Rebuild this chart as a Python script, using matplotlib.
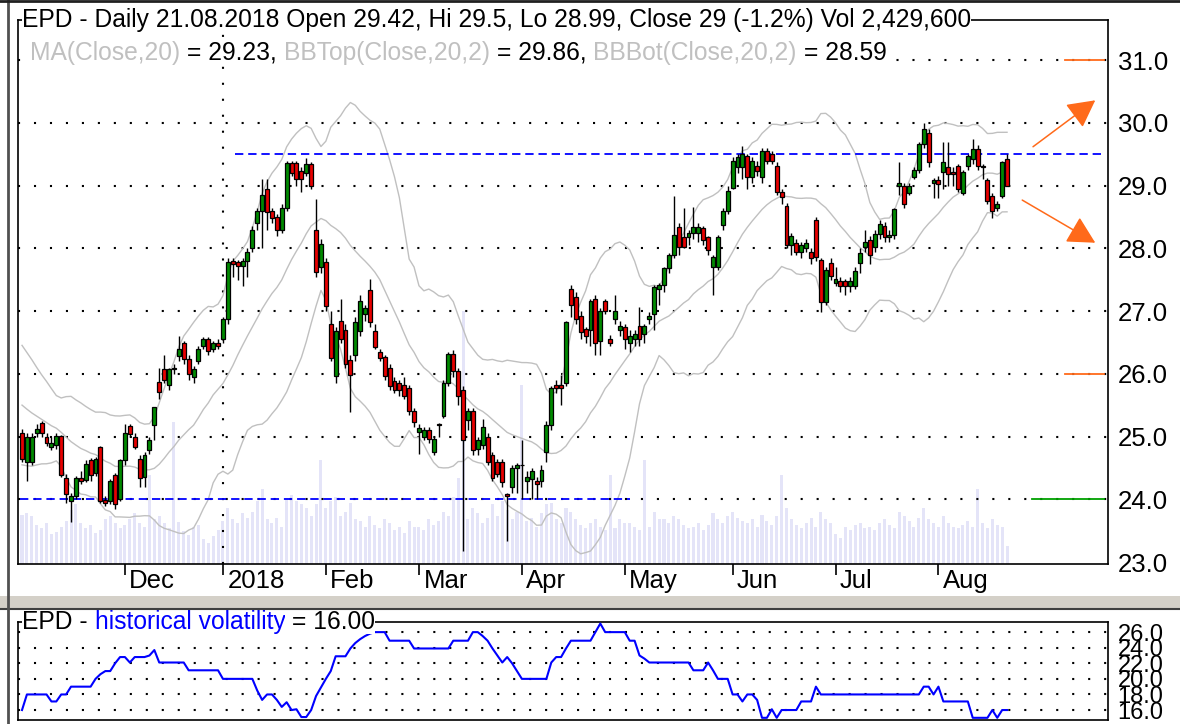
import numpy as np
import pandas as pd
import matplotlib
matplotlib.use('Agg')
import matplotlib.pyplot as plt
import matplotlib.transforms as mtransforms
from matplotlib.patches import Rectangle
from matplotlib.lines import Line2D

plt.rcParams['font.family'] = ['Liberation Sans', 'DejaVu Sans']
plt.rcParams['lines.scale_dashes'] = False

# ---- data: daily EPD candles, 01.11.2017 - 21.08.2018 ----
holidays = ['2017-11-23', '2017-12-25', '2018-01-01', '2018-01-15',
            '2018-02-19', '2018-03-30', '2018-05-28', '2018-07-04']

opens = [
    # Nov
    25.05, 24.60, 24.60, 25.05, 25.22, 25.00, 24.83, 24.86, 25.01, 24.34, 23.97,
    24.05, 24.34, 24.31, 24.62, 24.42, 24.83, 23.99, 23.97, 24.39, 24.00,
    # Dec
    24.62, 25.17, 25.00, 24.65, 24.36, 24.78, 25.19, 25.87, 26.08, 25.82,
    26.08, 26.29, 26.49, 26.23, 25.95, 26.21, 26.44, 26.55, 26.40, 26.50,
    # Jan
    26.56, 26.87, 27.80, 27.78, 27.72, 27.80, 28.00, 28.40, 28.60, 28.95, 28.60,
    28.50, 28.30, 28.64, 29.36, 29.36, 29.23, 29.20, 29.34, 28.30, 27.70,
    # Feb
    27.78, 26.80, 25.96, 26.84, 26.70, 26.22, 26.30, 26.69, 26.95, 27.34,
    26.69, 26.35, 26.27, 26.09, 25.88, 25.85, 25.83, 25.78, 25.41,
    # Mar
    25.07, 25.00, 25.10, 24.76, 25.20, 25.33, 25.85, 26.32, 26.04, 25.75, 25.26,
    25.41, 24.80, 24.86, 24.99, 24.70, 24.60, 24.60, 24.08, 24.19, 24.50,
    # Apr
    24.55, 24.30, 24.32, 24.29, 24.29, 24.76, 25.18, 25.83, 25.83, 25.85, 27.35,
    27.23, 26.92, 26.71, 26.70, 27.20, 26.53, 27.16, 26.55, 26.87, 26.70,
    # May
    26.74, 26.50, 26.55, 26.76, 26.63, 26.87, 26.95, 27.35, 27.42, 27.68, 27.90,
    28.34, 28.18, 28.18, 28.24, 28.24, 28.32, 28.18, 27.71, 27.71, 28.37, 28.60,
    # Jun
    28.97, 29.30, 29.30, 29.47, 29.13, 29.32, 29.13, 29.55, 29.50, 29.32, 28.90,
    28.68, 28.05, 28.08, 27.95, 28.00, 27.95, 28.45, 27.82, 27.14, 27.77,
    # Jul
    27.45, 27.48, 27.48, 27.40, 27.40, 27.77, 28.03, 28.13, 28.03, 28.23, 28.36,
    28.18, 28.21, 28.99, 28.99, 28.88, 29.14, 29.25, 29.66, 29.84, 29.04,
    # Aug
    29.09, 29.22, 29.30, 29.22, 29.32, 28.88, 29.32, 29.43, 29.58, 29.32,
    29.09, 28.83, 28.65, 28.83, 29.42,
]
highs = [
    25.12, 25.05, 25.05, 25.20, 25.25, 25.05, 25.00, 25.05, 25.03, 24.40, 24.10,
    24.38, 24.45, 24.62, 24.66, 24.68, 24.85, 24.05, 24.32, 24.42, 24.65,
    25.20, 25.20, 25.05, 24.70, 24.75, 25.00, 25.48, 26.10, 26.30, 26.10,
    26.15, 26.60, 26.52, 26.30, 26.12, 26.45, 26.58, 26.58, 26.52, 26.55,
    26.90, 27.85, 27.85, 27.82, 27.85, 28.00, 28.35, 28.65, 29.10, 29.10, 28.65,
    28.55, 28.70, 29.40, 29.40, 29.40, 29.30, 29.44, 29.38, 28.79, 28.15,
    27.85, 27.00, 26.75, 27.20, 26.80, 26.30, 26.90, 27.25, 27.10, 27.52,
    26.80, 26.40, 26.30, 26.15, 25.95, 25.90, 25.95, 25.82, 25.45,
    25.20, 25.15, 25.15, 25.00, 25.22, 25.90, 26.35, 26.38, 26.10, 25.80, 25.45,
    25.45, 25.00, 25.28, 25.05, 24.75, 24.65, 24.65, 24.10, 24.55, 24.58,
    24.95, 24.45, 24.50, 24.35, 24.55, 25.25, 25.80, 25.90, 25.99, 26.85, 27.42,
    27.30, 27.00, 26.75, 27.20, 27.25, 27.05, 27.20, 26.62, 27.26, 26.85,
    26.80, 26.70, 26.70, 27.07, 26.80, 26.98, 27.42, 27.45, 27.70, 27.92, 28.84,
    28.40, 28.65, 28.30, 28.66, 28.40, 28.36, 28.20, 27.90, 28.22, 28.65, 29.00,
    29.45, 29.50, 29.63, 29.50, 29.45, 29.40, 29.60, 29.60, 29.55, 29.38, 28.95,
    28.72, 28.25, 28.15, 28.10, 28.15, 28.00, 28.50, 27.85, 27.70, 27.85,
    27.70, 27.55, 27.52, 27.55, 27.70, 28.00, 28.30, 28.20, 28.30, 28.45, 28.42,
    28.30, 28.65, 29.38, 29.05, 29.05, 29.30, 29.70, 30.00, 29.90, 29.12,
    29.15, 29.70, 29.70, 29.30, 29.35, 29.25, 29.50, 29.74, 29.65, 29.35,
    29.12, 28.88, 28.75, 29.40, 29.50,
]
lows = [
    24.60, 24.30, 24.55, 25.00, 25.00, 24.85, 24.78, 24.80, 24.35, 23.95, 23.64,
    24.00, 24.25, 24.28, 24.30, 24.38, 23.95, 23.90, 23.92, 23.85, 23.98,
    24.55, 25.00, 24.80, 24.20, 24.20, 24.72, 24.95, 25.60, 25.85, 25.75,
    26.00, 26.20, 26.15, 25.90, 25.85, 26.15, 26.40, 26.30, 26.35, 26.40,
    26.50, 26.80, 27.55, 27.50, 27.40, 27.55, 27.95, 28.30, 28.00, 28.30, 28.40,
    28.20, 28.25, 28.60, 29.15, 29.00, 28.90, 29.15, 28.95, 27.55, 27.60,
    27.00, 26.20, 25.85, 26.50, 26.10, 25.39, 26.20, 26.60, 26.85, 26.75,
    26.40, 26.20, 25.90, 25.75, 25.70, 25.65, 25.60, 25.35, 25.15,
    24.72, 24.95, 24.90, 24.70, 25.00, 25.30, 25.80, 25.95, 25.50, 23.17, 25.10,
    24.70, 24.70, 24.80, 24.55, 24.30, 24.35, 24.20, 23.33, 24.10, 24.10,
    24.00, 24.10, 24.00, 24.00, 24.20, 24.60, 25.10, 25.70, 25.50, 25.80, 26.90,
    26.80, 26.55, 26.50, 26.45, 26.30, 26.30, 26.95, 26.45, 26.80, 26.60,
    26.40, 26.35, 26.45, 26.45, 26.50, 26.80, 26.70, 27.10, 27.30, 27.60, 27.85,
    27.90, 28.00, 28.05, 28.15, 28.10, 28.05, 27.90, 27.26, 27.65, 28.30, 28.55,
    28.95, 29.20, 29.10, 28.95, 29.05, 29.15, 29.05, 29.35, 29.35, 28.85, 28.70,
    28.00, 27.90, 27.90, 27.85, 27.95, 27.75, 27.80, 26.99, 27.10, 27.50,
    27.40, 27.30, 27.25, 27.30, 27.35, 27.60, 27.95, 27.75, 27.95, 28.15, 28.10,
    28.10, 28.15, 28.85, 28.65, 28.85, 29.10, 29.20, 29.60, 29.30, 28.80,
    28.80, 28.95, 29.00, 29.00, 28.90, 28.85, 29.25, 29.35, 29.25, 29.10,
    28.70, 28.49, 28.60, 28.80, 28.99,
]
closes = [
    24.65, 25.00, 25.00, 25.12, 25.05, 24.90, 24.90, 25.01, 24.39, 24.08, 24.05,
    24.34, 24.29, 24.57, 24.39, 24.65, 23.97, 23.95, 24.29, 23.92, 24.62,
    25.06, 25.04, 24.83, 24.34, 24.70, 24.94, 25.48, 25.71, 25.90, 26.08,
    26.10, 26.39, 26.23, 26.00, 26.08, 26.39, 26.55, 26.36, 26.50, 26.45,
    26.87, 27.78, 27.75, 27.72, 27.80, 27.95, 28.30, 28.60, 28.85, 28.58, 28.48,
    28.30, 28.64, 29.36, 29.20, 29.10, 29.10, 29.34, 29.00, 27.62, 28.07,
    27.08, 26.25, 26.69, 26.56, 26.15, 25.99, 26.82, 27.16, 27.05, 26.82,
    26.43, 26.25, 25.96, 25.80, 25.75, 25.75, 25.65, 25.41, 25.23,
    25.13, 25.10, 24.97, 24.97, 25.18, 25.85, 26.32, 26.04, 25.65, 24.94, 25.41,
    24.79, 24.95, 25.15, 24.60, 24.34, 24.40, 24.27, 24.05, 24.50, 24.55,
    24.55, 24.35, 24.45, 24.24, 24.47, 25.18, 25.78, 25.78, 25.78, 26.82, 27.10,
    26.87, 26.66, 26.60, 27.16, 26.50, 27.00, 27.00, 26.50, 27.00, 26.76,
    26.55, 26.60, 26.63, 26.55, 26.76, 26.92, 27.39, 27.42, 27.68, 27.90, 28.21,
    28.03, 28.03, 28.24, 28.34, 28.34, 28.13, 27.97, 27.87, 28.18, 28.60, 28.92,
    29.39, 29.45, 29.50, 29.13, 29.39, 29.24, 29.55, 29.39, 29.39, 28.90, 28.82,
    28.05, 28.20, 27.95, 28.05, 28.08, 27.84, 27.87, 27.14, 27.66, 27.56,
    27.52, 27.40, 27.40, 27.48, 27.64, 27.92, 28.10, 27.90, 28.23, 28.39, 28.18,
    28.22, 28.62, 29.04, 28.70, 28.99, 29.25, 29.66, 29.90, 29.38, 29.09,
    29.02, 29.38, 29.19, 29.19, 28.94, 29.22, 29.48, 29.58, 29.32, 29.30,
    28.75, 28.60, 28.70, 29.38, 29.00,
]
# closes of the 19 sessions before the chart (only used to seed the bands)
seed_closes = [26.30, 26.20, 26.15, 26.05, 25.95, 25.90, 25.80, 25.70, 25.60,
               25.50, 25.45, 25.35, 25.25, 25.20, 25.10, 25.05, 25.00, 24.95, 24.90]

volume_m = [
    6.6, 6.9, 6.5, 5.2, 4.8, 5.5, 4.0, 4.3, 5.0, 5.8, 7.2,
    8.0, 5.5, 4.8, 5.3, 4.2, 4.6, 6.0, 6.5, 5.5, 4.8,
    5.2, 6.0, 6.8, 5.5, 5.0, 12.0, 6.0, 6.4, 5.5, 4.8,
    19.0, 5.6, 4.4, 3.9, 5.0, 5.3, 3.4, 2.8, 3.8, 4.6,
    5.8, 7.5, 6.0, 5.5, 6.8, 6.2, 7.0, 8.5, 10.0, 6.0, 5.5,
    6.2, 5.0, 8.8, 9.2, 8.4, 8.0, 7.5, 6.5, 8.0, 14.0,
    7.5, 8.5, 9.0, 6.5, 7.0, 8.2, 6.0, 5.8, 5.0, 6.5,
    5.2, 4.8, 6.0, 5.5, 4.5, 5.0, 4.2, 5.8, 5.0,
    5.0, 4.5, 6.0, 5.2, 5.8, 7.0, 6.5, 9.0, 11.5, 34.0, 6.0,
    7.5, 6.8, 5.5, 6.2, 8.0, 6.5, 8.4, 7.2, 6.0, 7.0,
    24.0, 5.8, 6.2, 5.0, 6.8, 8.0, 8.2, 6.0, 5.5, 7.5, 7.0,
    6.0, 5.2, 4.8, 5.5, 6.0, 5.0, 4.5, 12.0, 4.8, 6.0,
    5.5, 5.5, 5.0, 4.5, 14.0, 5.0, 7.0, 6.0, 6.0, 5.5, 6.5,
    6.0, 5.2, 4.8, 5.0, 5.5, 4.6, 5.2, 6.8, 6.0, 5.5, 6.5,
    7.0, 6.2, 5.8, 5.5, 6.0, 5.0, 6.6, 5.8, 5.2, 6.5, 12.0,
    7.5, 6.0, 5.2, 4.8, 5.5, 6.2, 5.0, 7.0, 6.0, 5.5,
    4.0, 3.5, 5.0, 4.5, 5.2, 5.5, 4.8, 5.0, 4.5, 5.5, 6.0,
    5.2, 4.8, 7.0, 6.5, 5.8, 5.0, 6.2, 7.5, 6.0, 5.5,
    5.0, 6.5, 5.5, 5.0, 4.8, 5.2, 5.8, 5.0, 10.0, 5.5,
    4.8, 6.0, 5.2, 5.0, 2.43,
]

hist_vol = [
    16.0, 18.0, 18.0, 18.0, 18.0, 18.0, 17.1, 17.1, 18.0, 18.0,
    19.0, 19.0, 19.0, 19.0, 19.0, 20.0, 20.6, 21.0, 21.0, 22.0,
    22.8, 22.8, 22.1, 22.8, 22.8, 22.8, 23.0, 23.7, 22.1, 22.1,
    22.1, 22.1, 22.1, 22.1, 21.1, 21.1, 21.1, 21.1, 21.1, 21.1,
    21.1, 20.0, 20.0, 20.0, 20.0, 20.0, 20.0, 20.0, 18.5, 17.3,
    18.0, 18.0, 17.3, 16.4, 17.0, 16.0, 16.1, 15.1, 15.1, 16.0,
    17.8, 18.9, 20.0, 21.0, 22.9, 22.9, 22.9, 23.9, 24.6, 25.1,
    25.5, 25.8, 26.0, 26.0, 26.0, 24.9, 24.9, 24.9, 24.9, 24.9,
    23.9, 23.9, 23.9, 23.9, 23.9, 23.9, 23.9, 23.9, 24.9, 24.9,
    24.9, 24.9, 26.0, 26.0, 25.5, 24.9, 23.9, 23.0, 22.1, 22.8,
    22.0, 21.0, 20.0, 20.0, 20.0, 20.0, 20.0, 20.0, 22.1, 22.8,
    22.8, 23.9, 24.9, 24.9, 24.9, 24.9, 24.9, 26.0, 27.1, 26.0,
    26.0, 26.0, 26.0, 26.0, 24.9, 24.9, 23.0, 22.6, 22.1, 22.1,
    22.1, 22.1, 22.1, 22.1, 22.1, 22.1, 22.1, 21.1, 21.1, 21.1,
    22.1, 21.1, 20.0, 20.0, 20.0, 18.0, 18.0, 17.1, 18.0, 18.0,
    17.3, 15.0, 15.0, 16.1, 15.0, 16.0, 16.0, 16.0, 16.0, 17.1,
    17.1, 17.1, 19.0, 18.0, 18.0, 18.0, 18.0, 18.0, 18.0, 18.0,
    18.0, 18.0, 18.0, 18.0, 18.0, 18.0, 18.0, 18.0, 18.0, 18.0,
    18.0, 18.0, 18.0, 18.0, 19.0, 19.0, 18.0, 19.0, 17.1, 17.1,
    17.1, 17.1, 17.1, 17.1, 15.0, 15.0, 15.0, 15.0, 16.0, 15.0,
    16.0, 16.0,
]

month_names = ['Dec', '2018', 'Feb', 'Mar', 'Apr', 'May', 'Jun', 'Jul', 'Aug']
price_ticks = [23.0, 24.0, 25.0, 26.0, 27.0, 28.0, 29.0, 30.0, 31.0]
vol_ticks = [16.0, 18.0, 20.0, 22.0, 24.0, 26.0]

# drawn levels: (price, from day, to day)
blue_levels = [(29.5, 43.5, 221), (24.0, -0.5, 124)]
orange_marks = [31.0, 26.0]
green_marks = [24.0]
# trend arrows: (day0, price0, day1, price1)
arrows = [(206.3, 29.62, 219.0, 30.36), (204.1, 28.77, 219.0, 28.09)]

header = 'EPD - Daily 21.08.2018 Open 29.42, Hi 29.5, Lo 28.99, Close 29 (-1.2%) Vol 2,429,600'
header2 = [('MA(Close,20)', '#c0c0c0'), (' = 29.23, ', 'black'),
           ('BBTop(Close,20,2)', '#c0c0c0'), (' = 29.86, ', 'black'),
           ('BBBot(Close,20,2)', '#c0c0c0'), (' = 28.59', 'black')]
header3 = [('EPD - ', 'black'), ('historical volatility', '#0000ff'), (' = 16.00', 'black')]

# ---- derived ----
days = pd.bdate_range('2017-11-01', '2018-08-21')
days = days[~days.isin(pd.to_datetime(holidays))]
n = len(closes)
idx = np.arange(n)
o, h, l, c = map(np.array, (opens, highs, lows, closes))

allc = pd.Series(seed_closes + closes)
mid = allc.rolling(20).mean().values[-n:]
sd = allc.rolling(20).std(ddof=0).values[-n:]
upper, lower = mid + 2 * sd, mid - 2 * sd

month_pos = [i for i in range(1, n) if days[i].month != days[i - 1].month]

# ---- figure ----
W, H = 1180, 724
fig = plt.figure(figsize=(W / 100, H / 100), dpi=100)


def rect(left, top, right, bottom):
    return [left / W, 1 - bottom / H, (right - left) / W, (bottom - top) / H]


xlim = (-0.82, 221.6)
dots = (0, (1.5, 10))
title_size = 17.7
label_size = 18.5

# window decoration
fig.add_artist(Rectangle((0, 1 - 608 / H), 1, 12 / H, transform=fig.transFigure,
                         fc='#d4d0c8', ec='none'))
fig.add_artist(Line2D([0, 1], [1 - 609 / H] * 2, transform=fig.transFigure,
                      color='#404040', lw=1.5))
fig.add_artist(Line2D([8 / W] * 2, [0, 1], transform=fig.transFigure,
                      color='#505050', lw=2))
fig.add_artist(Line2D([0, 1], [1 - 1 / H] * 2, transform=fig.transFigure,
                      color='#202020', lw=2))

# volume behind the price panel
vax = fig.add_axes(rect(18, 20, 1108, 564))
vax.bar(idx, volume_m, width=0.62, color='#e4e4f8', linewidth=0)
vax.set_xlim(*xlim)
vax.set_ylim(0, 73)
vax.axis('off')

ax = fig.add_axes(rect(18, 20, 1108, 564))
ax.patch.set_visible(False)
ax.set_xlim(*xlim)
ax.set_ylim(22.97, 31.64)

for p in price_ticks[1:]:
    ax.axhline(p, color='black', lw=1.5, ls=dots, zorder=1)
ax.axvline(month_pos[1], color='black', lw=1.5, ls=dots, zorder=1)

ax.plot(idx, upper, color='#c0c0c0', lw=1, zorder=2)
ax.plot(idx, mid, color='#c0c0c0', lw=1, zorder=2)
ax.plot(idx, lower, color='#c0c0c0', lw=1, zorder=2)

for p, a, b in blue_levels:
    ax.plot([a, b], [p, p], color='#0000ff', lw=1.3, ls=(0, (6, 3.5)), zorder=3)

ax.vlines(idx, l, h, color='black', lw=1, zorder=4)
up = c >= o
ax.bar(idx, c - o, bottom=o, width=0.8,
       color=np.where(up, '#008a00', '#e80000'), edgecolor='black',
       linewidth=0.9, zorder=5)

for p in orange_marks:
    ax.plot([212.8, 220.8], [p, p], color='#ff6a1a', lw=1.3, zorder=3)
for p in green_marks:
    ax.plot([206.0, 220.8], [p, p], color='#00a000', lw=1.3, zorder=3)
for d0, p0, d1, p1 in arrows:
    ax.annotate('', xy=(d1, p1), xytext=(d0, p0),
                arrowprops=dict(arrowstyle='-|>,head_length=0.85,head_width=0.45',
                                color='#ff6a1a', lw=1.1, mutation_scale=20,
                                shrinkA=0, shrinkB=0), zorder=6)

ax.yaxis.tick_right()
ax.set_yticks(price_ticks)
ax.set_yticklabels(['%.1f' % p for p in price_ticks], fontsize=label_size)
ax.tick_params(axis='y', length=0, pad=7)
ax.set_xticks(month_pos)
ax.set_xticklabels([])
ax.tick_params(axis='x', length=8, width=1.2, direction='out')
xt = mtransforms.blended_transform_factory(ax.transData, ax.transAxes)
for pos, name in zip(month_pos, month_names):
    ax.text(pos + 0.9, -0.01, name, transform=xt, ha='left', va='top',
            fontsize=label_size)
for s in ax.spines.values():
    s.set_linewidth(1.2)

box = dict(boxstyle='square,pad=0', fc='white', ec='none')


def chain(axis, parts, x, y, size):
    prev = None
    for s, col in parts:
        if prev is None:
            prev = axis.text(x, y, s, color=col, transform=axis.transAxes,
                             ha='left', va='center', fontsize=size, bbox=box, zorder=10)
        else:
            prev = axis.annotate(s, xy=(1, 0.5), xycoords=prev, ha='left', va='center',
                                 color=col, fontsize=size, bbox=box, zorder=10)


chain(ax, [(header, 'black')], 0.0037, 1.0, title_size)
chain(ax, header2, 0.011, 0.94, title_size)

# historical volatility panel
hax = fig.add_axes(rect(18, 622, 1108, 720))
hax.set_xlim(*xlim)
hax.set_ylim(14.72, 27.3)
for p in vol_ticks:
    hax.axhline(p, color='black', lw=1.5, ls=dots, zorder=1)
hax.plot(idx, hist_vol, color='#0000ff', lw=1.5, zorder=3)
hax.set_xticks([])
hax.yaxis.tick_right()
hax.set_yticks(vol_ticks)
hax.set_yticklabels(['%.1f' % p for p in vol_ticks], fontsize=17)
hax.tick_params(axis='y', length=0, pad=7)
for s in hax.spines.values():
    s.set_linewidth(1.2)
chain(hax, header3, 0.0037, 1.0, title_size)

fig.savefig('out.png', dpi=100)
